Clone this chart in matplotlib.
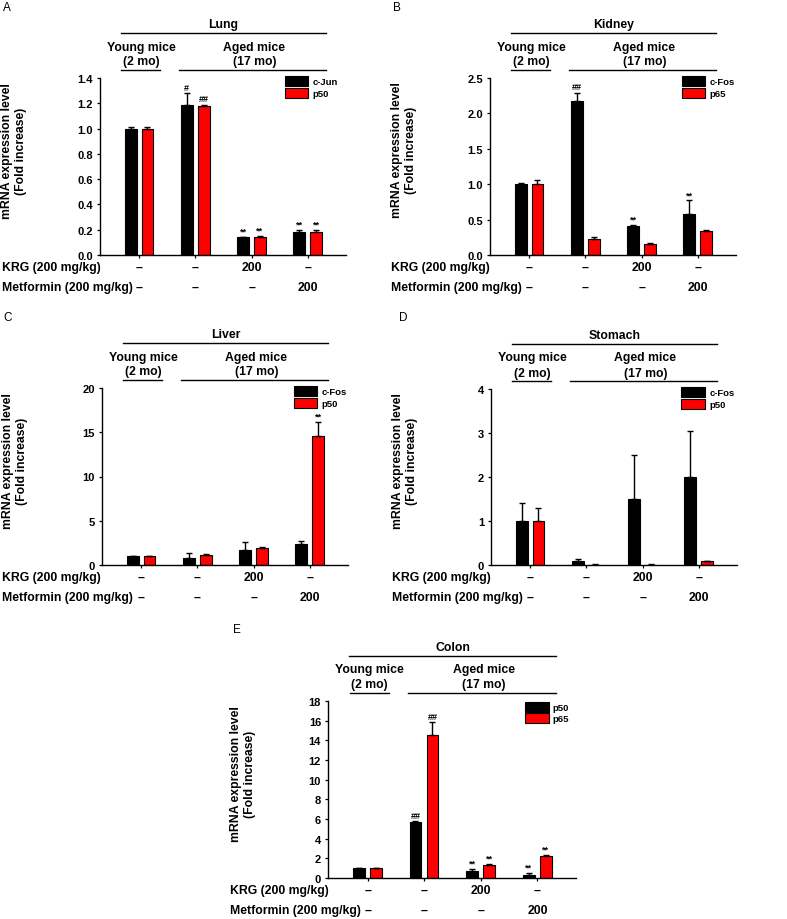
import numpy as np
import matplotlib
matplotlib.use('Agg')
import matplotlib.pyplot as plt
from matplotlib.transforms import blended_transform_factory
from matplotlib.ticker import FormatStrFormatter

plt.rcParams['font.family'] = ['Liberation Sans', 'DejaVu Sans']
plt.rcParams['font.weight'] = 'bold'

# ---- data ----
krg_row = ['–', '–', '200', '–']
met_row = ['–', '–', '–', '200']

lung_names = ['c-Jun', 'p50']
lung_black = [1.00, 1.19, 0.14, 0.185]
lung_black_err = [0.01, 0.09, 0.005, 0.01]
lung_red = [1.00, 1.18, 0.145, 0.18]
lung_red_err = [0.01, 0.01, 0.006, 0.02]
lung_sig_black = ['', '#', '**', '**']
lung_sig_red = ['', '##', '**', '**']
lung_yticks = [0.0, 0.2, 0.4, 0.6, 0.8, 1.0, 1.2, 1.4]

kidney_names = ['c-Fos', 'p65']
kidney_black = [1.00, 2.17, 0.41, 0.58]
kidney_black_err = [0.01, 0.12, 0.02, 0.19]
kidney_red = [1.00, 0.23, 0.16, 0.34]
kidney_red_err = [0.06, 0.03, 0.01, 0.02]
kidney_sig_black = ['', '##', '**', '**']
kidney_sig_red = ['', '', '', '']
kidney_yticks = [0.0, 0.5, 1.0, 1.5, 2.0, 2.5]

liver_names = ['c-Fos', 'p50']
liver_black = [1.0, 0.8, 1.65, 2.35]
liver_black_err = [0.05, 0.55, 0.9, 0.35]
liver_red = [1.0, 1.15, 1.9, 14.6]
liver_red_err = [0.05, 0.1, 0.12, 1.6]
liver_sig_black = ['', '', '', '']
liver_sig_red = ['', '', '', '**']
liver_yticks = [0, 5, 10, 15, 20]

stomach_names = ['c-Fos', 'p50']
stomach_black = [1.0, 0.1, 1.5, 2.0]
stomach_black_err = [0.4, 0.03, 1.0, 1.05]
stomach_red = [1.0, 0.01, 0.01, 0.08]
stomach_red_err = [0.3, 0.01, 0.005, 0.02]
stomach_sig_black = ['', '', '', '']
stomach_sig_red = ['', '', '', '']
stomach_yticks = [0, 1, 2, 3, 4]

colon_names = ['p50', 'p65']
colon_black = [1.0, 5.65, 0.7, 0.3]
colon_black_err = [0.03, 0.15, 0.25, 0.25]
colon_red = [1.0, 14.5, 1.35, 2.2]
colon_red_err = [0.03, 1.35, 0.1, 0.1]
colon_sig_black = ['', '##', '**', '**']
colon_sig_red = ['', '##', '**', '**']
colon_yticks = [0, 2, 4, 6, 8, 10, 12, 14, 16, 18]

W, H = 787, 920
FS = 8.8
fig = plt.figure(figsize=(W / 100, H / 100), dpi=100)


def draw_panel(box, title, names, black, black_err, red, red_err, sig_b, sig_r,
               yticks, yfmt, letter, letter_xy, ylab_xy, row_left, leg_xy):
    left, top, right, bottom = box
    ax = fig.add_axes([left / W, 1 - bottom / H, (right - left) / W, (bottom - top) / H])
    x = np.arange(len(black))
    w = 0.21
    xb, xr = x - 0.155, x + 0.145
    zeros = np.zeros(len(x))

    ax.bar(xb, black, w, color='black', edgecolor='black', lw=0.8, label=names[0], zorder=2)
    ax.bar(xr, red, w, color='#ff0000', edgecolor='black', lw=0.8, label=names[1], zorder=2)
    ax.errorbar(xb, black, yerr=[zeros, black_err], fmt='none', ecolor='black',
                elinewidth=1.0, capsize=2.2, capthick=1.0, zorder=3)
    ax.errorbar(xr, red, yerr=[zeros, red_err], fmt='none', ecolor='black',
                elinewidth=1.0, capsize=2.2, capthick=1.0, zorder=3)

    for i in range(len(x)):
        if sig_b[i]:
            ax.annotate(sig_b[i], (xb[i], black[i] + black_err[i]), xytext=(0, 1),
                        textcoords='offset points', ha='center', va='bottom', fontsize=6.5)
        if sig_r[i]:
            ax.annotate(sig_r[i], (xr[i], red[i] + red_err[i]), xytext=(0, 1),
                        textcoords='offset points', ha='center', va='bottom', fontsize=6.5)

    ax.set_xlim(-0.7, 3.68)
    ax.set_ylim(yticks[0], yticks[-1])
    ax.set_yticks(yticks)
    ax.yaxis.set_major_formatter(FormatStrFormatter(yfmt))
    ax.set_xticks(x)
    ax.tick_params(axis='y', direction='out', length=2.5, width=0.9, labelsize=8, pad=2.5)
    ax.tick_params(axis='x', direction='out', length=2.5, width=0.9, labelbottom=False)
    for s in ['top', 'right']:
        ax.spines[s].set_visible(False)
    for s in ['left', 'bottom']:
        ax.spines[s].set_linewidth(1.0)

    ax.legend(loc='upper left', bbox_to_anchor=leg_xy, frameon=False, fontsize=6.8,
              handlelength=2.5, handleheight=1.25, handletextpad=0.45, labelspacing=0.15,
              borderpad=0, borderaxespad=0)

    # group headers above the axes
    tr = blended_transform_factory(ax.transData, fig.transFigure)
    yt = lambda d: 1 - (top + d) / H
    ax.text(1.5, yt(-54), title, transform=tr, ha='center', va='center', fontsize=FS)
    ax.plot([-0.33, 3.32], [yt(-45)] * 2, transform=tr, color='black', lw=1.0, clip_on=False)
    ax.text(0.03, yt(-31.5), 'Young mice', transform=tr, ha='center', va='center', fontsize=FS)
    ax.text(0.03, yt(-16.5), '(2 mo)', transform=tr, ha='center', va='center', fontsize=FS)
    ax.plot([-0.32, 0.37], [yt(-8)] * 2, transform=tr, color='black', lw=1.0, clip_on=False)
    ax.text(2.05, yt(-31.5), 'Aged mice', transform=tr, ha='center', va='center', fontsize=FS)
    ax.text(2.05, yt(-16.5), '(17 mo)', transform=tr, ha='center', va='center', fontsize=FS)
    ax.plot([0.71, 3.32], [yt(-8)] * 2, transform=tr, color='black', lw=1.0, clip_on=False)

    # treatment rows below the axes
    yb = lambda d: 1 - (bottom + d) / H
    fig.text(row_left / W, yb(12), 'KRG (200 mg/kg)', ha='left', va='center', fontsize=FS)
    fig.text(row_left / W, yb(32), 'Metformin (200 mg/kg)', ha='left', va='center', fontsize=FS)
    for i in range(len(x)):
        ax.text(x[i], yb(12), krg_row[i], transform=tr, ha='center', va='center', fontsize=FS)
        ax.text(x[i], yb(32), met_row[i], transform=tr, ha='center', va='center', fontsize=FS)

    fig.text(ylab_xy[0] / W, 1 - ylab_xy[1] / H, 'mRNA expression level\n(Fold increase)',
             rotation=90, ha='center', va='center', fontsize=FS, multialignment='center')
    fig.text(letter_xy[0] / W, 1 - letter_xy[1] / H, letter, ha='left', va='top',
             fontsize=8.5, fontweight='normal')
    return ax


draw_panel((100, 79, 346, 256), 'Lung', lung_names, lung_black, lung_black_err,
           lung_red, lung_red_err, lung_sig_black, lung_sig_red, lung_yticks, '%.1f',
           'A', (3, 2), (14, 151), 2, (0.751, 1.01))
draw_panel((490, 79, 736, 256), 'Kidney', kidney_names, kidney_black, kidney_black_err,
           kidney_red, kidney_red_err, kidney_sig_black, kidney_sig_red, kidney_yticks, '%.1f',
           'B', (393, 2), (404, 150), 391, (0.78, 1.01))
draw_panel((102, 389, 348, 566), 'Liver', liver_names, liver_black, liver_black_err,
           liver_red, liver_red_err, liver_sig_black, liver_sig_red, liver_yticks, '%d',
           'C', (3, 312), (15, 461), 2, (0.78, 1.01))
draw_panel((491, 390, 737, 566), 'Stomach', stomach_names, stomach_black, stomach_black_err,
           stomach_red, stomach_red_err, stomach_sig_black, stomach_sig_red, stomach_yticks, '%d',
           'D', (399, 312), (405, 461), 392, (0.774, 1.01))
draw_panel((328, 702, 576, 879), 'Colon', colon_names, colon_black, colon_black_err,
           colon_red, colon_red_err, colon_sig_black, colon_sig_red, colon_yticks, '%d',
           'E', (233, 624), (243, 774), 230, (0.794, 0.997))

fig.savefig('out.png', dpi=100)
